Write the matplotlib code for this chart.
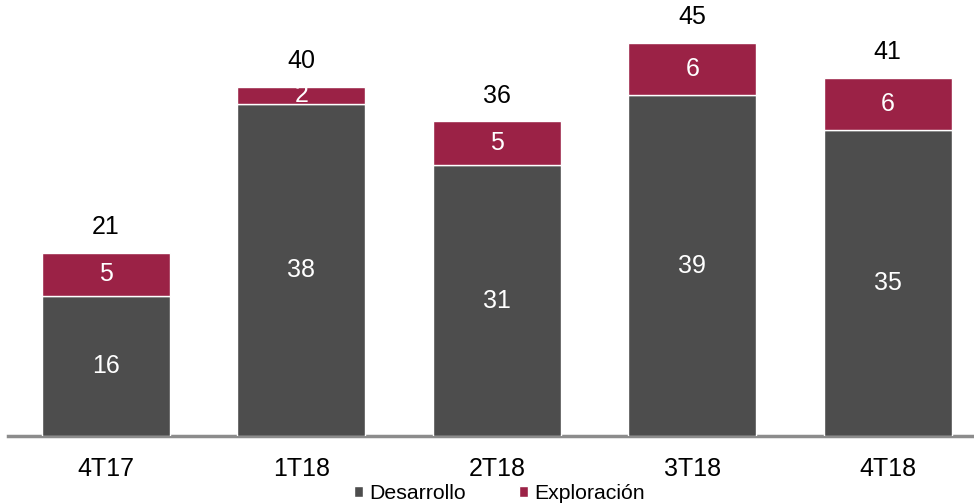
import matplotlib.pyplot as plt
import numpy as np

plt.rcParams['font.family'] = ['Liberation Sans', 'DejaVu Sans']

# Inversiones por trimestre
periodos = ["4T17", "1T18", "2T18", "3T18", "4T18"]
desarrollo = [16, 38, 31, 39, 35]
exploracion = [5, 2, 5, 6, 6]
totales = [21, 40, 36, 45, 41]

c_des = "#4d4d4d"
c_exp = "#9b2246"
fs = 18

fig = plt.figure(figsize=(9.74, 5.04), dpi=100)
ax = fig.add_axes([8 / 974, 68 / 504, 1 - 8 / 974, 1 - 68 / 504])

x = np.arange(len(periodos))
w = 0.655
b1 = ax.bar(x, desarrollo, w, color=c_des, edgecolor="white", linewidth=1,
            label="Desarrollo", zorder=3)
b2 = ax.bar(x, exploracion, w, bottom=desarrollo, color=c_exp, edgecolor="white",
            linewidth=1, label="Exploración", zorder=3)

for i in range(len(periodos)):
    ax.text(x[i], desarrollo[i] / 2, str(desarrollo[i]), ha="center", va="center",
            color="white", fontsize=fs, zorder=4)
    ax.text(x[i], desarrollo[i] + exploracion[i] / 2, str(exploracion[i]),
            ha="center", va="center", color="white", fontsize=fs, zorder=4)
    ax.annotate(str(totales[i]), (x[i], desarrollo[i] + exploracion[i]),
                xytext=(0, 18.5), textcoords="offset points", ha="center",
                va="center", fontsize=fs, color="black")

ax.set_xlim(-0.502, 4.442)
ax.set_ylim(0, 49.9)
ax.set_xticks(x)
ax.set_xticklabels(periodos, fontsize=fs)
ax.tick_params(axis="x", length=0, pad=15)
ax.set_yticks([])
for s in ["top", "left", "right"]:
    ax.spines[s].set_visible(False)
ax.spines["bottom"].set_color("#8c8c8c")
ax.spines["bottom"].set_linewidth(2.5)
ax.spines["bottom"].set_zorder(2)

fig.legend(handles=[b1, b2], loc="center", bbox_to_anchor=(0.513, 0.021),
           ncol=2, frameon=False, fontsize=15.3, handlelength=0.42,
           handleheight=0.42, handletextpad=0.3, columnspacing=2.5,
           borderpad=0)

fig.savefig("out.png", dpi=100)
